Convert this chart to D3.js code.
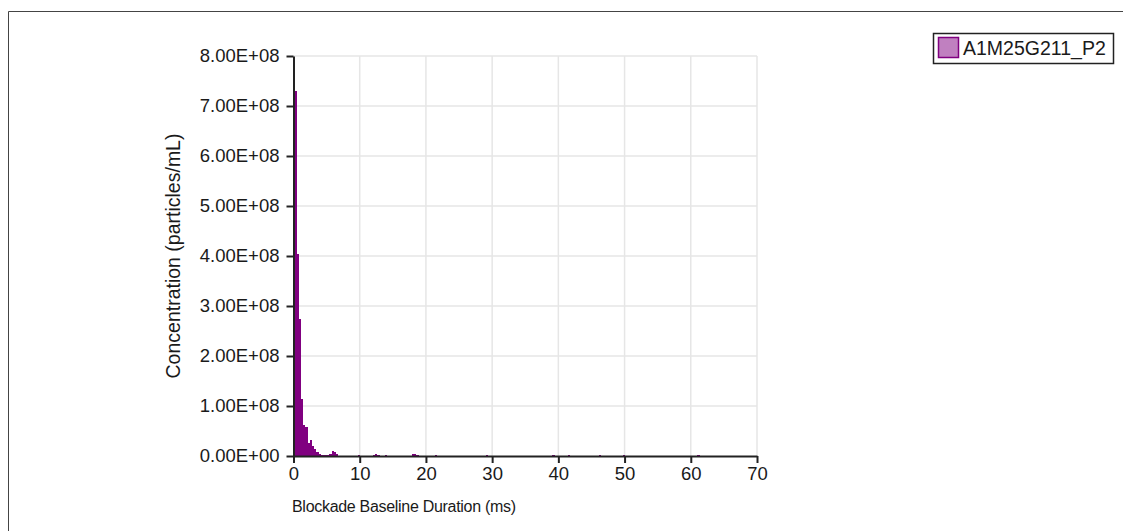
<!DOCTYPE html>
<html>
<head>
<meta charset="utf-8">
<script src="https://cdn.jsdelivr.net/npm/d3@7/dist/d3.min.js"></script>
<style>
  body { margin: 0; background: #fff; }
  text { font-family: "Liberation Sans", Arial, sans-serif; fill: #1a1a1a; }
</style>
</head>
<body>
<svg width="1123" height="531"></svg>
<script>
// histogram bins (start in ms), bin width 0.33 ms
const binWidth = 0.33
const binStarts = [0.15, 0.48, 0.81, 1.14, 1.47, 1.8, 2.13, 2.46, 2.79, 3.12, 3.45, 3.78, 4.11, 4.44, 4.77, 5.1, 5.43, 5.76, 6.09, 6.42,
    9.7, 12.0, 12.33, 12.66, 13.8, 17.9, 18.23, 18.56, 21.3, 29.1, 39.1, 41.4, 46.1, 49.8, 61.0]
const concentrations = [7.3e8, 4.05e8, 2.75e8, 1.15e8, 6.2e7, 5.8e7, 2.6e7, 3.3e7, 2.0e7, 1.4e7, 8e6, 5e6, 3e6, 3e6, 2e6, 3e6, 5e6, 1.0e7, 9e6, 4e6,
    3e6, 3e6, 4e6, 3e6, 3e6, 4e6, 4e6, 3e6, 3e6, 2e6, 3e6, 3e6, 2e6, 3e6, 3e6]
const xTicks = [0, 10, 20, 30, 40, 50, 60, 70]
const yTicks = [0, 1e8, 2e8, 3e8, 4e8, 5e8, 6e8, 7e8, 8e8]
const seriesName = 'A1M25G211_P2'

const svg = d3.select('svg')

// outer frame
svg.append('path')
    .attr('d', 'M8.5,531 L8.5,11.5 L1123,11.5')
    .attr('fill', 'none')
    .attr('stroke', '#444')

const x = d3.scaleLinear().domain([0, 70]).range([293.5, 757])
const y = d3.scaleLinear().domain([0, 8e8]).range([456, 56])

// grid
svg.append('g').selectAll('line')
    .data(xTicks.slice(1))
    .enter().append('line')
    .attr('x1', d => x(d)).attr('x2', d => x(d))
    .attr('y1', y(8e8)).attr('y2', y(0))
    .attr('stroke', '#e6e6e6').attr('stroke-width', 1.5)
svg.append('g').selectAll('line')
    .data(yTicks.slice(1))
    .enter().append('line')
    .attr('x1', x(0)).attr('x2', x(70))
    .attr('y1', d => y(d)).attr('y2', d => y(d))
    .attr('stroke', '#e6e6e6').attr('stroke-width', 1.5)

// bars
const data = binStarts.map((s, i) => ({start: s, value: concentrations[i]}))
svg.append('g').selectAll('rect')
    .data(data)
    .enter().append('rect')
    .attr('x', d => x(d.start))
    .attr('width', d => x(d.start + binWidth) - x(d.start))
    .attr('y', d => y(d.value))
    .attr('height', d => y(0) - y(d.value))
    .attr('fill', '#800080')
    .attr('shape-rendering', 'crispEdges')

// axes
const fmt = d => d === 0 ? '0.00E+00' : d3.format('.2e')(d).replace('e+', 'E+0')
svg.append('g')
    .attr('transform', `translate(${x(0)},0)`)
    .call(d3.axisLeft(y).tickValues(yTicks).tickFormat(fmt).tickSize(7).tickPadding(7).tickSizeOuter(0))
    .call(g => g.select('.domain').attr('stroke', '#222').attr('stroke-width', 2))
    .call(g => g.selectAll('.tick line').attr('stroke', '#222').attr('stroke-width', 2))
    .call(g => g.selectAll('.tick text').attr('font-size', 18.5).attr('font-family', '"Liberation Sans", Arial, sans-serif').attr('fill', '#1a1a1a'))

svg.append('g')
    .attr('transform', `translate(0,${y(0)})`)
    .call(d3.axisBottom(x).tickValues(xTicks).tickSize(7).tickPadding(4).tickSizeOuter(0))
    .call(g => g.select('.domain').attr('stroke', '#222').attr('stroke-width', 2))
    .call(g => g.selectAll('.tick line').attr('stroke', '#222').attr('stroke-width', 2))
    .call(g => g.selectAll('.tick text').attr('font-size', 18.5).attr('font-family', '"Liberation Sans", Arial, sans-serif').attr('fill', '#1a1a1a'))

// axis titles
svg.append('text')
    .attr('x', 292).attr('y', 512)
    .attr('font-size', 16)
    .attr('letter-spacing', -0.3)
    .text('Blockade Baseline Duration (ms)')
svg.append('text')
    .attr('transform', 'translate(180,256) rotate(-90)')
    .attr('text-anchor', 'middle')
    .attr('font-size', 19.5)
    .text('Concentration (particles/mL)')

// legend
const legend = svg.append('g')
legend.append('rect')
    .attr('x', 933.5).attr('y', 33.5).attr('width', 180).attr('height', 30)
    .attr('fill', '#fff').attr('stroke', '#222').attr('stroke-width', 1.5)
legend.append('rect')
    .attr('x', 938.5).attr('y', 37.5).attr('width', 20).attr('height', 20)
    .attr('fill', '#c080c0').attr('stroke', '#800080').attr('stroke-width', 1.5)
legend.append('text')
    .attr('x', 963).attr('y', 55)
    .attr('font-size', 19.5)
    .text(seriesName)
</script>
</body>
</html>
